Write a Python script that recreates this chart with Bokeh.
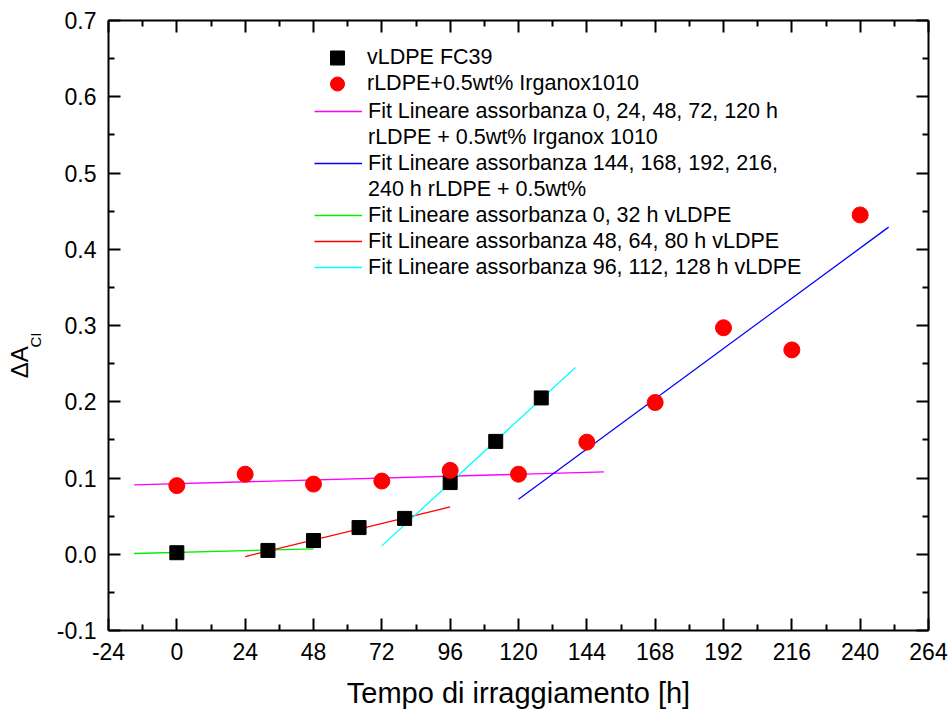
from bokeh.plotting import figure
from bokeh.models import (FixedTicker, LinearAxis, PrintfTickFormatter, Legend,
                          LegendItem, Range1d, CustomJSTickFormatter)
from bokeh.embed import file_html
from bokeh.resources import INLINE

# ---- data ----
x_ticks = [-24, 0, 24, 48, 72, 96, 120, 144, 168, 192, 216, 240, 264]
x_minor = [-12, 12, 36, 60, 84, 108, 132, 156, 180, 204, 228, 252]
y_ticks = [-0.1, 0.0, 0.1, 0.2, 0.3, 0.4, 0.5, 0.6, 0.7]
y_minor = [-0.05, 0.05, 0.15, 0.25, 0.35, 0.45, 0.55, 0.65]

vldpe_t = [0, 32, 48, 64, 80, 96, 112, 128]
vldpe_a = [0.002, 0.005, 0.018, 0.035, 0.047, 0.094, 0.148, 0.205]

rldpe_t = [0, 24, 48, 72, 96, 120, 144, 168, 192, 216, 240]
rldpe_a = [0.090, 0.105, 0.092, 0.096, 0.110, 0.105, 0.147, 0.199, 0.297, 0.268, 0.445]

fit_pink_x = [-15, 150]
fit_pink_y = [0.091, 0.108]
fit_blue_x = [120, 250]
fit_blue_y = [0.072, 0.429]
fit_green_x = [-15, 48]
fit_green_y = [0.001, 0.007]
fit_red_x = [24, 96]
fit_red_y = [-0.003, 0.062]
fit_cyan_x = [72, 140]
fit_cyan_y = [0.011, 0.245]

marker_labels = ["vLDPE FC39", "rLDPE+0.5wt% Irganox1010"]
fit_labels = [
    "Fit Lineare assorbanza 0, 24, 48, 72, 120 h",
    "rLDPE + 0.5wt% Irganox 1010",
    "Fit Lineare assorbanza 144, 168, 192, 216,",
    "240 h rLDPE + 0.5wt%",
    "Fit Lineare assorbanza 0, 32 h vLDPE",
    "Fit Lineare assorbanza 48, 64, 80 h vLDPE",
    "Fit Lineare assorbanza 96, 112, 128 h vLDPE",
]
x_title = "Tempo di irraggiamento [h]"
y_title = "ΔA"
y_title_sub = "CI"

FONT = "Liberation Sans"
NBSP = "\u00a0"

p = figure(width=949, height=713, output_backend="svg", toolbar_location=None,
           x_range=Range1d(-24, 264), y_range=Range1d(-0.1, 0.7),
           min_border_left=108, min_border_right=21, min_border_top=20,
           min_border_bottom=83, x_axis_location=None, y_axis_location=None)
p.grid.visible = False
p.outline_line_color = None
p.background_fill_color = "white"
p.border_fill_color = "white"

xt = FixedTicker(ticks=x_ticks, minor_ticks=x_minor)
yt = FixedTicker(ticks=y_ticks, minor_ticks=y_minor)
blank = CustomJSTickFormatter(code="return ''")


def style(ax, show_labels):
    ax.axis_line_width = 2
    ax.axis_line_color = "black"
    ax.major_tick_in = 12
    ax.major_tick_out = 0
    ax.minor_tick_in = 6
    ax.minor_tick_out = 0
    ax.major_tick_line_width = 2
    ax.minor_tick_line_width = 2
    ax.major_label_text_font = FONT
    ax.major_label_text_font_size = "23px"
    ax.major_label_text_color = "black"
    if not show_labels:
        ax.major_label_standoff = 0


bx = LinearAxis(ticker=xt, formatter=PrintfTickFormatter(format="%d"),
                axis_label=x_title)
style(bx, True)
bx.major_label_standoff = 12
bx.axis_label_text_font = FONT
bx.axis_label_text_font_size = "29px"
bx.axis_label_text_font_style = "normal"
bx.axis_label_text_color = "black"
bx.axis_label_standoff = 14
p.add_layout(bx, "below")

tx = LinearAxis(ticker=xt, formatter=blank)
style(tx, False)
p.add_layout(tx, "above")

# inner left axis: ticks, tick labels and the subscript part of the title
ly = LinearAxis(ticker=yt, formatter=PrintfTickFormatter(format="%.1f"),
                axis_label=y_title_sub + NBSP * 7)
style(ly, True)
ly.major_label_standoff = 12
ly.axis_label_text_font = FONT
ly.axis_label_text_font_size = "15px"
ly.axis_label_text_font_style = "normal"
ly.axis_label_text_color = "black"
ly.axis_label_standoff = 10
p.add_layout(ly, "left")

# outer left axis: only the main part of the title
ly2 = LinearAxis(ticker=FixedTicker(ticks=[]), axis_label=y_title + NBSP * 11)
ly2.axis_line_color = None
ly2.major_tick_out = 0
ly2.major_tick_in = 0
ly2.minor_tick_out = 0
ly2.minor_tick_in = 0
ly2.major_label_standoff = 0
ly2.axis_label_text_font = FONT
ly2.axis_label_text_font_size = "24px"
ly2.axis_label_text_font_style = "normal"
ly2.axis_label_text_color = "black"
ly2.axis_label_standoff = -9
p.add_layout(ly2, "left")

ry = LinearAxis(ticker=yt, formatter=blank)
style(ry, False)
p.add_layout(ry, "right")

lw = 1.3
r_pink = p.line(fit_pink_x, fit_pink_y, line_color="#FF00FF", line_width=lw)
r_blue = p.line(fit_blue_x, fit_blue_y, line_color="#0000FF", line_width=lw)
r_green = p.line(fit_green_x, fit_green_y, line_color="#00F000", line_width=lw)
r_red = p.line(fit_red_x, fit_red_y, line_color="#FF0000", line_width=lw)
r_cyan = p.line(fit_cyan_x, fit_cyan_y, line_color="#00FFFF", line_width=lw)

r_sq = p.scatter(vldpe_t, vldpe_a, marker="square", size=14, fill_color="black",
                 line_color="black")
r_ci = p.scatter(rldpe_t, rldpe_a, marker="circle", size=16, fill_color="#FF0000",
                 line_color="#FF0000")

common = dict(padding=0, glyph_width=48, label_standoff=6, border_line_color=None,
              background_fill_alpha=0, label_text_font=FONT,
              label_text_font_size="21.5px", label_text_color="black", margin=0)

leg1a = Legend(items=[LegendItem(label=marker_labels[0], renderers=[r_sq])],
               location=(205, 555), spacing=0, glyph_height=35, label_height=26,
               **common)
p.add_layout(leg1a, "center")
leg1b = Legend(items=[LegendItem(label=marker_labels[1], renderers=[r_ci])],
               location=(205, 529), spacing=0, glyph_height=35, label_height=26,
               **common)
p.add_layout(leg1b, "center")

fit_renderers = [[r_pink], [], [r_blue], [], [r_green], [r_red], [r_cyan]]
leg2 = Legend(items=[LegendItem(label=l, renderers=r) for l, r in
                     zip(fit_labels, fit_renderers)],
              location=(206, 350), spacing=0, glyph_height=26, label_height=26,
              **common)
p.add_layout(leg2, "center")

open("out.html", "w").write(file_html(p, INLINE))
